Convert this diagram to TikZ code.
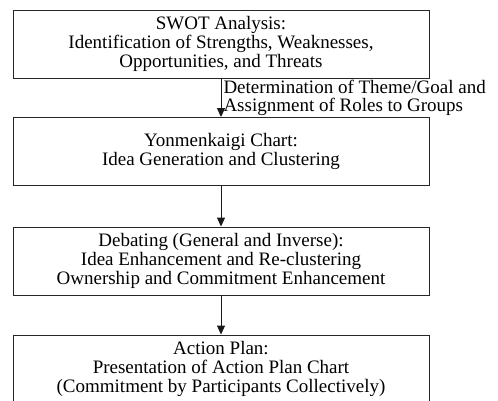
\documentclass[tikz,border=0pt]{standalone}
\usepackage{fontspec}
\setmainfont{Liberation Serif}
\usetikzlibrary{positioning,arrows.meta}
\begin{document}
\begin{tikzpicture}[x=1pt,y=1pt]
		\tikzset{stage/.style={draw=black!85, line width=0.9pt, minimum width=416pt, minimum height=68pt, inner sep=0pt, align=center, font=\fontsize{19}{18.7}\selectfont},
			flow/.style={draw=black!90, line width=1pt, -{Triangle[length=9pt,width=8pt]}},
			note/.style={right, inner sep=2pt, align=left, font=\fontsize{19}{18}\selectfont}}
		\useasboundingbox (0,0) rectangle (498,-400);
		\clip (0,0) rectangle (498,-400);
		\node [stage] (swot) at (221,-44) {SWOT Analysis:\\Identification of Strengths, Weaknesses,\\Opportunities, and Threats};
		\node [stage] (chart) at (221,-151.5) {Yonmenkaigi Chart:\\Idea Generation and Clustering};
		\node [stage] (debate) at (221,-261) {Debating (General and Inverse):\\Idea Enhancement and Re-clustering\\Ownership and Commitment Enhancement};
		\node [stage] (plan) at (221,-369) {Action Plan:\\Presentation of Action Plan Chart\\(Commitment by Participants Collectively)};
		\draw [flow] (swot) -- (chart) node [note, midway] (theme) {Determination of Theme/Goal and\\Assignment of Roles to Groups};
		\draw [flow] (chart) -- (debate);
		\draw [flow] (debate) -- (plan);
\end{tikzpicture}
\end{document}
